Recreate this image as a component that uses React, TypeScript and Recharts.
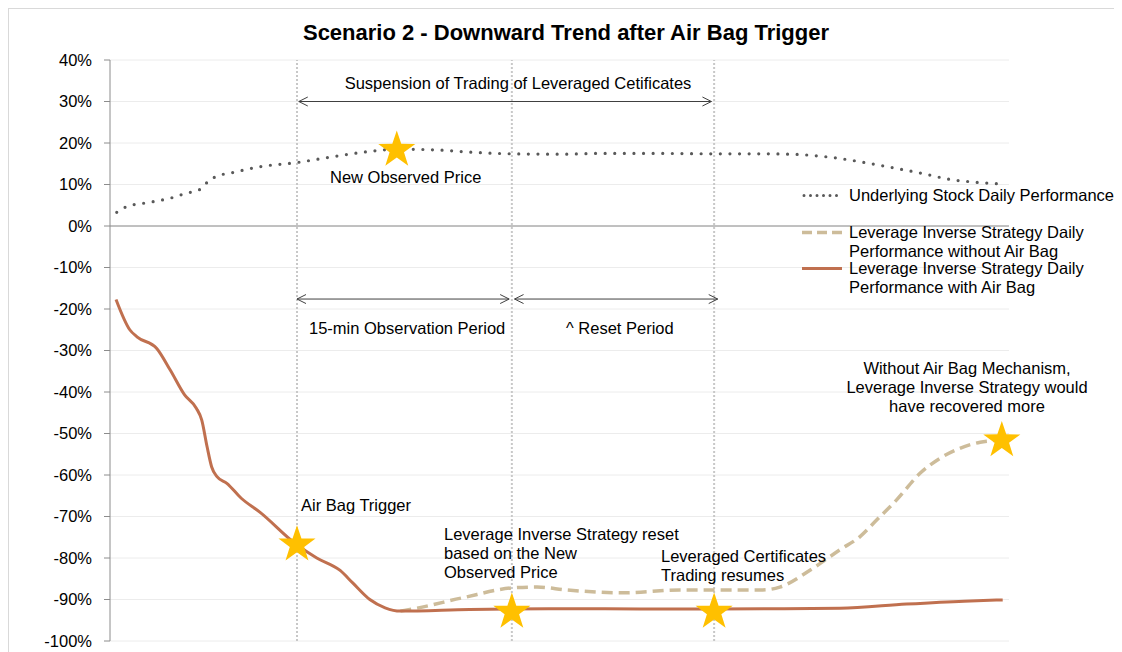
import React from "react";
import {
  ComposedChart,
  Line,
  Scatter,
  XAxis,
  YAxis,
  CartesianGrid,
  ReferenceLine,
} from "recharts";

// time runs 0..100 across the plot, values in %
const underlyingT = [0.75, 1.9, 4.4, 6.7, 8.5, 10.0, 11.1, 11.9, 13.7, 16.7, 20.8, 24.8, 28.6, 32.0, 36.7, 40, 44.7, 50, 55, 60, 67.2, 72, 75.6, 80, 84.2, 87.9, 90.5, 93.5, 96, 99.3];
const underlyingPct = [3.3, 4.7, 5.7, 6.7, 7.9, 8.8, 11.1, 12.0, 12.9, 14.3, 15.3, 16.7, 17.9, 18.5, 18.3, 17.8, 17.4, 17.3, 17.5, 17.5, 17.4, 17.4, 17.3, 16.6, 15.2, 13.7, 12.6, 11.2, 10.6, 10.1];

const withBagT = [0.67, 2.2, 3.0, 5.2, 6.7, 8.3, 9.6, 10.2, 10.8, 11.3, 11.9, 13.0, 14.6, 16.7, 20.6, 23.0, 25.6, 27.0, 28.9, 30.6, 32.3, 40, 50, 60, 67.2, 75, 81.2, 88.6, 95, 99.3];
const withBagPct = [-17.7, -25, -26.7, -29.5, -34.7, -40.7, -43.9, -46.7, -53.2, -58, -60.4, -62, -65.6, -69, -76.5, -80, -83, -86, -90, -92, -92.8, -92.4, -92.2, -92.3, -92.3, -92.2, -92.1, -91.1, -90.4, -90.1];

const noBagT = [32.3, 34.1, 39.2, 44.8, 47.5, 50.8, 57.1, 63.4, 72.6, 74.5, 77.9, 81.2, 83.4, 85.3, 87.5, 90.1, 92.3, 94.5, 96.8, 98.2, 99.3];
const noBagPct = [-92.8, -92.1, -89.6, -87.2, -87.0, -87.7, -88.4, -87.7, -87.7, -87.0, -82.9, -78, -74.9, -70.8, -66, -59.6, -56, -53.6, -52.1, -51.7, -51.5];

const starT = [20.8, 31.9, 44.7, 67.2, 99.2];
const starPct = [-76.3, 18.8, -92.5, -92.5, -51.2];

const markerT = [20.8, 44.7, 67.2];
const yTicks = [40, 30, 20, 10, 0, -10, -20, -30, -40, -50, -60, -70, -80, -90, -100];

// period arrows: [start, end, level %]
const arrowStart = [21.0, 20.8, 45.0];
const arrowEnd = [66.9, 44.4, 67.6];
const arrowLevel = [30, -17.6, -17.6];

const toPoints = (ts: number[], vs: number[]) => ts.map((t, i) => ({ t, v: vs[i] }));

const underlyingData = toPoints(underlyingT, underlyingPct);
const withBagData = toPoints(withBagT, withBagPct);
const noBagData = toPoints(noBagT, noBagPct);
const starData = toPoints(starT, starPct);

const FONT = '"Liberation Sans", Arial, Helvetica, sans-serif';
const DOT_COLOR = "#595959";
const TAN = "#CDBC9A";
const RUST = "#C0704F";
const GOLD = "#FFC000";

const Star = (props: any) => {
  const { cx, cy } = props;
  const R = 19.5;
  const r = 7.6;
  const pts: string[] = [];
  for (let i = 0; i < 10; i++) {
    const rad = i % 2 === 0 ? R : r;
    const a = -Math.PI / 2 + (i * Math.PI) / 5;
    pts.push(`${cx + rad * Math.cos(a)},${cy + 2 + rad * Math.sin(a)}`);
  }
  return <polygon points={pts.join(" ")} fill={GOLD} />;
};

// double headed arrow with open heads
const Arrow = (props: any) => {
  const { x1, y1, x2, y2 } = props;
  const h = 9;
  const w = 4.5;
  return (
    <g stroke="#404040" strokeWidth={1} fill="none">
      <line x1={x1} y1={y1} x2={x2} y2={y2} />
      <polyline points={`${x1 + h},${y1 - w} ${x1},${y1} ${x1 + h},${y1 + w}`} />
      <polyline points={`${x2 - h},${y2 - w} ${x2},${y2} ${x2 - h},${y2 + w}`} />
    </g>
  );
};

// page coords -> box coords (body margin 8 + border 1)
const Note = ({ x, y, lines, center }: { x: number; y: number; lines: string[]; center?: boolean }) => (
  <div
    style={{
      position: "absolute",
      left: center ? x - 9 - 200 : x - 9,
      width: center ? 400 : undefined,
      top: y - 9 - 9.5,
      textAlign: center ? "center" : "left",
      fontSize: 16.5,
      lineHeight: "19px",
      whiteSpace: "nowrap",
      color: "#000",
    }}
  >
    {lines.map((l) => (
      <div key={l}>{l}</div>
    ))}
  </div>
);

const LegendRow = ({ y, lines, sample }: { y: number; lines: string[]; sample: React.ReactNode }) => (
  <div style={{ position: "absolute", left: 802 - 9, top: y - 9 - 9.5, display: "flex", alignItems: "flex-start" }}>
    <svg width={40} height={19} style={{ marginRight: 7 }}>
      {sample}
    </svg>
    <div style={{ fontSize: 16.5, lineHeight: "19px", whiteSpace: "nowrap" }}>
      {lines.map((l) => (
        <div key={l}>{l}</div>
      ))}
    </div>
  </div>
);

export default function App() {
  return (
    <div
      style={{
        position: "relative",
        width: 1109,
        height: 643,
        borderTop: "1px solid #D9D9D9",
        borderLeft: "1px solid #D9D9D9",
        borderRight: "1px solid #D9D9D9",
        fontFamily: FONT,
        background: "#fff",
      }}
    >
      <style>{`html,body{overflow:hidden}`}</style>
      <ComposedChart
        width={1109}
        height={643}
        margin={{ top: 51, right: 109, left: 8, bottom: 11 }}
        style={{ fontFamily: FONT }}
      >
        <CartesianGrid vertical={false} stroke="#ECECEC" strokeWidth={1} />
        <XAxis type="number" dataKey="t" domain={[0, 100]} hide />
        <YAxis
          type="number"
          domain={[-100, 40]}
          ticks={yTicks}
          interval={0}
          width={93}
          tickSize={6}
          tickMargin={12}
          axisLine={{ stroke: "#8C8C8C" }}
          tickLine={{ stroke: "#8C8C8C" }}
          tick={{ fill: "#000", fontSize: 16.5, fontFamily: FONT }}
          tickFormatter={(v: number) => `${v}%`}
        />
        {markerT.map((t) => (
          <ReferenceLine key={t} x={t} stroke="#C8C8C8" strokeWidth={2} strokeDasharray="2 2" />
        ))}
        <ReferenceLine y={0} stroke="#8C8C8C" strokeWidth={1.2} />
        {arrowStart.map((s, i) => (
          <ReferenceLine
            key={`arrow-${i}`}
            segment={[
              { x: s, y: arrowLevel[i] },
              { x: arrowEnd[i], y: arrowLevel[i] },
            ]}
            shape={Arrow}
          />
        ))}
        <Line
          data={underlyingData}
          dataKey="v"
          type="monotone"
          stroke={DOT_COLOR}
          strokeWidth={3.2}
          strokeDasharray="0 9.6"
          strokeLinecap="round"
          dot={false}
          isAnimationActive={false}
        />
        <Line
          data={noBagData}
          dataKey="v"
          type="monotone"
          stroke={TAN}
          strokeWidth={3.5}
          strokeDasharray="11 6"
          dot={false}
          isAnimationActive={false}
        />
        <Line
          data={withBagData}
          dataKey="v"
          type="monotone"
          stroke={RUST}
          strokeWidth={3}
          dot={false}
          isAnimationActive={false}
        />
        <Scatter data={starData} dataKey="v" shape={Star} isAnimationActive={false} />
      </ComposedChart>

      <div
        style={{
          position: "absolute",
          left: 566 - 9 - 400,
          width: 800,
          top: 33 - 9 - 13,
          textAlign: "center",
          fontSize: 22,
          fontWeight: "bold",
          lineHeight: "26px",
        }}
      >
        Scenario 2 - Downward Trend after Air Bag Trigger
      </div>

      <Note x={518} y={83} lines={["Suspension of Trading of Leveraged Cetificates"]} center />
      <Note x={330} y={177} lines={["New Observed Price"]} />
      <Note x={309} y={328} lines={["15-min Observation Period"]} />
      <Note x={566} y={328} lines={["^ Reset Period"]} />
      <Note
        x={967}
        y={368}
        lines={["Without Air Bag Mechanism,", "Leverage Inverse Strategy would", "have recovered more"]}
        center
      />
      <Note x={301} y={505} lines={["Air Bag Trigger"]} />
      <Note x={444} y={534} lines={["Leverage Inverse Strategy reset", "based on the New", "Observed Price"]} />
      <Note x={661} y={556} lines={["Leveraged Certificates", "Trading resumes"]} />

      <LegendRow
        y={195}
        lines={["Underlying Stock Daily Performance"]}
        sample={
          <line x1={2} y1={9.5} x2={38} y2={9.5} stroke={DOT_COLOR} strokeWidth={3} strokeDasharray="0 6.5" strokeLinecap="round" />
        }
      />
      <LegendRow
        y={232}
        lines={["Leverage Inverse Strategy Daily", "Performance without Air Bag"]}
        sample={<line x1={0} y1={9.5} x2={40} y2={9.5} stroke={TAN} strokeWidth={3.5} strokeDasharray="10 5" />}
      />
      <LegendRow
        y={268}
        lines={["Leverage Inverse Strategy Daily", "Performance with Air Bag"]}
        sample={<line x1={0} y1={9.5} x2={40} y2={9.5} stroke={RUST} strokeWidth={3} />}
      />
    </div>
  );
}
